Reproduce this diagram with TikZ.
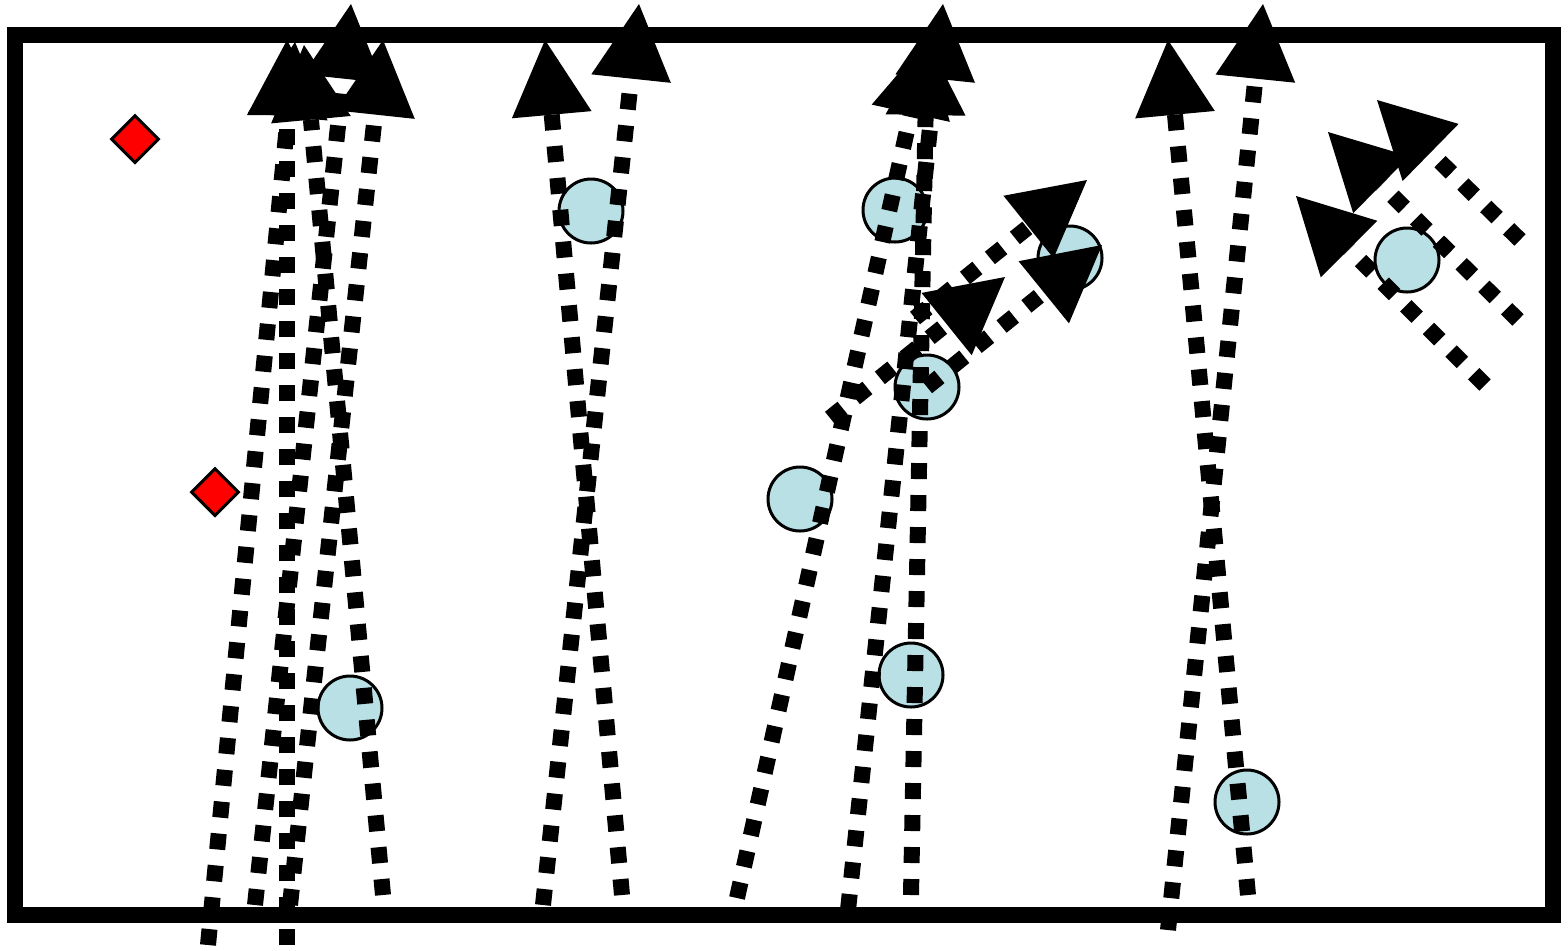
\documentclass[tikz,border=0pt]{standalone}
\usetikzlibrary{arrows.meta,shapes.geometric}
\definecolor{ballblue}{RGB}{185,224,228}
\begin{document}
\begin{tikzpicture}[x=0.5pt,y=-0.5pt,
  ball/.style={circle,draw=black,line width=1.5pt,fill=ballblue,minimum size=32pt,inner sep=0pt},
  cone/.style={diamond,draw=black,line width=1.5pt,fill=red,minimum size=24pt,inner sep=0pt},
  run/.style={line width=8pt,dash pattern=on 8pt off 8pt,-{Triangle[length=37.5pt,width=40pt,line width=0pt]}},
  frame/.style={line width=8pt}]
\useasboundingbox (0,0) rectangle (1568,950);
\draw[frame] (15,35) rectangle (1553,915);
% balls
\node[ball] (b1) at (350,708) {};
\node[ball] (b2) at (591,211) {};
\node[ball] (b3) at (895,210) {};
\node[ball] (b4) at (1070,258) {};
\node[ball] (b5) at (927,387) {};
\node[ball] (b6) at (800,499) {};
\node[ball] (b7) at (911,675) {};
\node[ball] (b8) at (1247,802) {};
\node[ball] (b9) at (1407,260) {};
% cones
\node[cone] (c1) at (135,139) {};
\node[cone] (c2) at (215,492) {};
% run coordinates
\coordinate (s1) at (208,945);  \coordinate (t1) at (295,42);
\coordinate (s2) at (255,905);  \coordinate (t2) at (351,4);
\coordinate (s3) at (287,945);  \coordinate (t3) at (287,40);
\coordinate (s4) at (290,905);  \coordinate (t4) at (383,40);
\coordinate (s5) at (383,895);  \coordinate (t5) at (304,45);
\coordinate (s6) at (622,895);  \coordinate (t6) at (545,40);
\coordinate (s7) at (543,905);  \coordinate (t7) at (639,4);
\coordinate (s8) at (737,898);  \coordinate (t8) at (927,40);
\coordinate (s9) at (848,910);  \coordinate (t9) at (943,4);
\coordinate (s10) at (911,895); \coordinate (t10) at (927,40);
\coordinate (s11) at (915,318); \coordinate (t11) at (1087,180);
\coordinate (s12) at (927,387); \coordinate (t12) at (1102,245);
\coordinate (s13) at (830,418); \coordinate (t13) at (1005,277);
\coordinate (s14) at (1248,895); \coordinate (t14) at (1168,40);
\coordinate (s15) at (1168,930); \coordinate (t15) at (1263,4);
\coordinate (s16) at (1520,240); \coordinate (t16) at (1377,100);
\coordinate (s17) at (1518,320); \coordinate (t17) at (1328,132);
\coordinate (s18) at (1485,385); \coordinate (t18) at (1296,196);
\foreach \i in {1,...,18}{
  \draw[run] (s\i) -- (t\i);
}
\end{tikzpicture}
\end{document}
